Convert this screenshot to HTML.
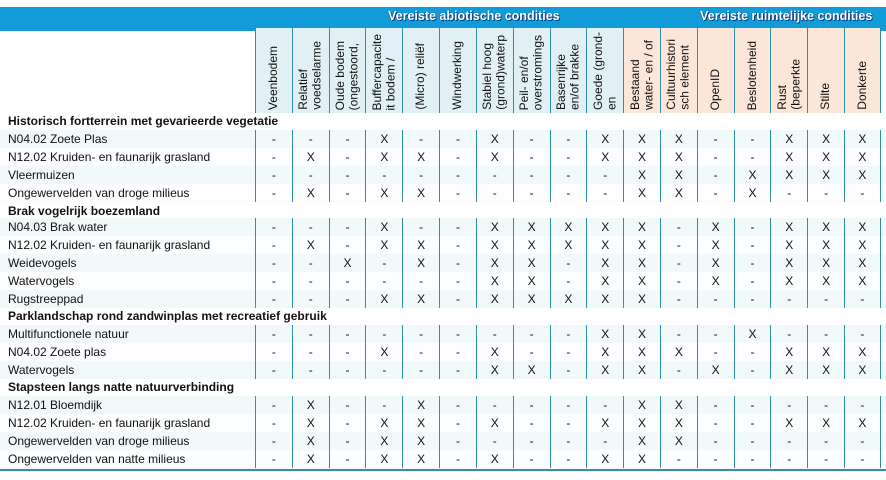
<!DOCTYPE html>
<html><head><meta charset="utf-8"><style>
*{margin:0;padding:0;box-sizing:border-box}
body{width:886px;height:480px;background:#fff;position:relative;overflow:hidden;font-family:"Liberation Sans",Arial,sans-serif;color:#111}
.bar{position:absolute;left:0;top:7px;width:886px;height:24px;background:#129bd9}
.bt{position:absolute;top:9px;color:#fff;font-weight:bold;font-size:12.5px;text-shadow:1px 1px 0 #0a3f7a,-0.5px 0 0 #0a3f7a}
.hdr{position:absolute;top:28px;left:255px;height:85px;display:grid;grid-template-columns:repeat(17,36.82px)}
.hc{border-left:1.5px solid #2f8fa6;height:85px;display:flex;justify-content:center;align-items:flex-end;overflow:hidden;padding-bottom:3px;padding-top:3px}
.hc.b{background:#e1f0f4}.hc.p{background:#fce6d8}
.hc span{writing-mode:vertical-rl;transform:rotate(180deg);font-size:12px;line-height:13.5px;white-space:nowrap;max-height:79px;overflow:hidden}
.row{position:absolute;left:0;width:886px;height:18px;display:grid;grid-template-columns:255px repeat(17,36.82px);font-size:12px;line-height:18px;background:#f2f9fb}
.row div{text-align:center;border-left:1.5px solid #2f8fa6}
.row div:first-child{text-align:left;padding-left:8px;border-left:none;white-space:nowrap}
.row div:last-child{border-right:1.5px solid #2f8fa6}
.row.w{background:#fbfdfe}
.sec{position:absolute;left:8px;font-size:12px;font-weight:bold;line-height:18px}
.bl{position:absolute;left:0;top:469px;width:886px;height:2px;background:#2f8fa6}
</style></head><body>
<div class="bar"></div>
<div class="bt" style="left:388px">Vereiste abiotische condities</div>
<div class="bt" style="left:700px">Vereiste ruimtelijke condities</div>
<div class="hdr">
<div class="hc b"><span>Veenbodem</span></div>
<div class="hc b"><span>Relatief<br>voedselarme</span></div>
<div class="hc b"><span>Oude bodem<br>(ongestoord,</span></div>
<div class="hc b"><span>Buffercapacite<br>it bodem /</span></div>
<div class="hc b"><span>(Micro) reliëf</span></div>
<div class="hc b"><span>Windwerking</span></div>
<div class="hc b"><span>Stabiel hoog<br>(grond)waterp</span></div>
<div class="hc b"><span>Peil- en/of<br>overstromings</span></div>
<div class="hc b"><span>Basenrijke<br>en/of brakke</span></div>
<div class="hc b"><span>Goede (grond-<br>en</span></div>
<div class="hc p"><span>Bestaand<br>water- en / of</span></div>
<div class="hc p"><span>Cultuurhistori<br>sch element</span></div>
<div class="hc p"><span>OpenID</span></div>
<div class="hc p"><span>Beslotenheid</span></div>
<div class="hc p"><span>Rust<br>(beperkte</span></div>
<div class="hc p"><span>Stilte</span></div>
<div class="hc p" style="border-right:1.5px solid #2f8fa6"><span>Donkerte</span></div>
</div>

<div class="sec" style="top:112px">Historisch fortterrein met gevarieerde vegetatie</div>
<div class="row" style="top:130px"><div>N04.02 Zoete Plas</div><div>-</div><div>-</div><div>-</div><div>X</div><div>-</div><div>-</div><div>X</div><div>-</div><div>-</div><div>X</div><div>X</div><div>X</div><div>-</div><div>-</div><div>X</div><div>X</div><div>X</div></div>
<div class="row w" style="top:148px"><div>N12.02 Kruiden- en faunarijk grasland</div><div>-</div><div>X</div><div>-</div><div>X</div><div>X</div><div>-</div><div>X</div><div>-</div><div>-</div><div>X</div><div>X</div><div>X</div><div>-</div><div>-</div><div>X</div><div>X</div><div>X</div></div>
<div class="row" style="top:166px"><div>Vleermuizen</div><div>-</div><div>-</div><div>-</div><div>-</div><div>-</div><div>-</div><div>-</div><div>-</div><div>-</div><div>-</div><div>X</div><div>X</div><div>-</div><div>X</div><div>X</div><div>X</div><div>X</div></div>
<div class="row w" style="top:184px"><div>Ongewervelden van droge milieus</div><div>-</div><div>X</div><div>-</div><div>X</div><div>X</div><div>-</div><div>-</div><div>-</div><div>-</div><div>-</div><div>X</div><div>X</div><div>-</div><div>X</div><div>-</div><div>-</div><div>-</div></div>

<div class="sec" style="top:202px">Brak vogelrijk boezemland</div>
<div class="row" style="top:218px"><div>N04.03 Brak water</div><div>-</div><div>-</div><div>-</div><div>X</div><div>-</div><div>-</div><div>X</div><div>X</div><div>X</div><div>X</div><div>X</div><div>-</div><div>X</div><div>-</div><div>X</div><div>X</div><div>X</div></div>
<div class="row w" style="top:236px"><div>N12.02 Kruiden- en faunarijk grasland</div><div>-</div><div>X</div><div>-</div><div>X</div><div>X</div><div>-</div><div>X</div><div>X</div><div>X</div><div>X</div><div>X</div><div>-</div><div>X</div><div>-</div><div>X</div><div>X</div><div>X</div></div>
<div class="row" style="top:254px"><div>Weidevogels</div><div>-</div><div>-</div><div>X</div><div>-</div><div>X</div><div>-</div><div>X</div><div>X</div><div>-</div><div>X</div><div>X</div><div>-</div><div>X</div><div>-</div><div>X</div><div>X</div><div>X</div></div>
<div class="row w" style="top:272px"><div>Watervogels</div><div>-</div><div>-</div><div>-</div><div>-</div><div>-</div><div>-</div><div>X</div><div>X</div><div>-</div><div>X</div><div>X</div><div>-</div><div>X</div><div>-</div><div>X</div><div>X</div><div>X</div></div>
<div class="row" style="top:290px"><div>Rugstreeppad</div><div>-</div><div>-</div><div>-</div><div>X</div><div>X</div><div>-</div><div>X</div><div>X</div><div>X</div><div>X</div><div>X</div><div>-</div><div>-</div><div>-</div><div>-</div><div>-</div><div>-</div></div>

<div class="sec" style="top:307px">Parklandschap rond zandwinplas met recreatief gebruik</div>
<div class="row" style="top:325px"><div>Multifunctionele natuur</div><div>-</div><div>-</div><div>-</div><div>-</div><div>-</div><div>-</div><div>-</div><div>-</div><div>-</div><div>X</div><div>X</div><div>-</div><div>-</div><div>X</div><div>-</div><div>-</div><div>-</div></div>
<div class="row w" style="top:343px"><div>N04.02 Zoete plas</div><div>-</div><div>-</div><div>-</div><div>X</div><div>-</div><div>-</div><div>X</div><div>-</div><div>-</div><div>X</div><div>X</div><div>X</div><div>-</div><div>-</div><div>X</div><div>X</div><div>X</div></div>
<div class="row" style="top:361px"><div>Watervogels</div><div>-</div><div>-</div><div>-</div><div>-</div><div>-</div><div>-</div><div>X</div><div>X</div><div>-</div><div>X</div><div>X</div><div>-</div><div>X</div><div>-</div><div>X</div><div>X</div><div>X</div></div>

<div class="sec" style="top:378px">Stapsteen langs natte natuurverbinding</div>
<div class="row" style="top:396px"><div>N12.01 Bloemdijk</div><div>-</div><div>X</div><div>-</div><div>-</div><div>X</div><div>-</div><div>-</div><div>-</div><div>-</div><div>-</div><div>X</div><div>X</div><div>-</div><div>-</div><div>-</div><div>-</div><div>-</div></div>
<div class="row w" style="top:414px"><div>N12.02 Kruiden- en faunarijk grasland</div><div>-</div><div>X</div><div>-</div><div>X</div><div>X</div><div>-</div><div>X</div><div>-</div><div>-</div><div>X</div><div>X</div><div>X</div><div>-</div><div>-</div><div>X</div><div>X</div><div>X</div></div>
<div class="row" style="top:432px"><div>Ongewervelden van droge milieus</div><div>-</div><div>X</div><div>-</div><div>X</div><div>X</div><div>-</div><div>-</div><div>-</div><div>-</div><div>-</div><div>X</div><div>X</div><div>-</div><div>-</div><div>-</div><div>-</div><div>-</div></div>
<div class="row w" style="top:450px"><div>Ongewervelden van natte milieus</div><div>-</div><div>X</div><div>-</div><div>X</div><div>X</div><div>-</div><div>X</div><div>-</div><div>-</div><div>X</div><div>X</div><div>-</div><div>-</div><div>-</div><div>-</div><div>-</div><div>-</div></div>
<div class="bl"></div>
</body></html>
